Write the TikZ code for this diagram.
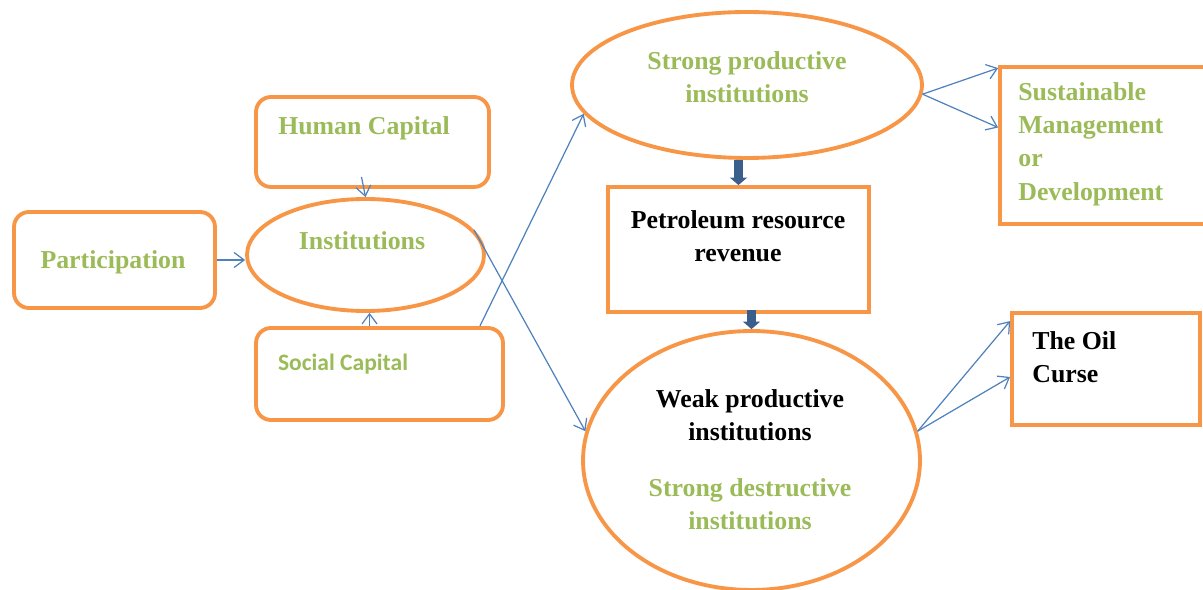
\documentclass[tikz,border=0pt]{standalone}
\usepackage{fontspec}
\setmainfont{Liberation Serif}
\newfontfamily\calibrifont{Carlito}
\usetikzlibrary{shapes.geometric,arrows.meta}
\definecolor{boxorange}{HTML}{F79646}
\definecolor{labelgreen}{HTML}{9BBB59}
\definecolor{linkblue}{HTML}{4F81BD}
\definecolor{flowblue}{HTML}{3A5F8C}

\begin{document}
\begin{tikzpicture}[x=0.02cm,y=-0.02cm,
  box/.style={draw=boxorange,line width=2.2pt},
  rbox/.style={box,rounded corners=0.3cm},
  oval/.style={box,ellipse},
  txt/.style={font=\fontsize{14.7}{19}\selectfont\bfseries,inner sep=0pt,align=center},
  gtxt/.style={txt,text=labelgreen},
  link/.style={draw=linkblue,line width=0.7pt,-{Straight Barb[length=0.2cm,width=0.3cm]}},
  fat/.style={draw=flowblue,line width=0.18cm,-{Triangle[length=0.15cm,width=0.34cm]}}]
\useasboundingbox (0,0) rectangle (1203,590);
\clip (0,0) rectangle (1203,590);

% left half: inputs around institutions
\node[rbox,minimum width=4.02cm,minimum height=1.92cm] (part) at (114.5,260) {};
\node[rbox,minimum width=4.66cm,minimum height=1.8cm] (hc) at (372.5,142) {};
\node[oval,minimum width=4.74cm,minimum height=2.24cm] (inst) at (365.5,255) {};
\node[rbox,minimum width=4.94cm,minimum height=1.84cm] (sc) at (379.5,374) {};

\node[gtxt] (part-t) at (113,262) {Participation};
\node[gtxt] (hc-t) at (364,128) {Human Capital};
\node[gtxt] (inst-t) at (362,241) {Institutions};
\node[txt,text=labelgreen,font=\calibrifont\fontsize{13.4}{16}\selectfont\bfseries] (sc-t) at (343,364) {Social Capital};

% right half: the two outcomes of resource revenue
\node[oval,minimum width=7cm,minimum height=2.92cm] (spi) at (747,85) {};
\node[box,minimum width=5.22cm,minimum height=2.5cm] (prr) at (738.5,249.5) {};
\node[oval,minimum width=6.74cm,minimum height=5.18cm] (wpi) at (751.5,460.5) {};
\node[box,minimum width=4.2cm,minimum height=3.14cm] (smd) at (1105,145.5) {};
\node[box,minimum width=3.76cm,minimum height=2.24cm] (toc) at (1106,369) {};

\node[gtxt] (spi-t) at (747,77) {Strong productive\\institutions};
\node[txt] (prr-t) at (738,236) {Petroleum resource\\revenue};
\node[txt] (wpi-t) at (750,415) {Weak productive\\institutions};
\node[gtxt] (sdi-t) at (750,504) {Strong destructive\\institutions};
\node[gtxt,anchor=west,align=left] (smd-t) at (1018,144) {Sustainable\\Management\\or\\Development};
\node[txt,anchor=west,align=left] (toc-t) at (1032,357) {The Oil\\Curse};

% connectors
\draw[link] (part.east) -- (part.east -| inst.west);
\draw[link] ([shift={(-11,-12)}]hc.south) -- (inst.north);
\draw[link] ([shift={(4,0)}]sc.north -| inst.south) -- ([shift={(4,0)}]inst.south);
\draw[link] ([shift={(-25,0)}]sc.north east) -- (spi.190);
\draw[link] (inst.13) -- (wpi.170);
\draw[link] (spi.-3) -- ([shift={(0,3)}]smd.north west);
\draw[link] (spi.-3) -- ([shift={(0,-18)}]smd.west);
\draw[link] (wpi.10) -- ([shift={(0,10)}]toc.north west);
\draw[link] (wpi.10) -- ([shift={(0,8)}]toc.west);
\draw[fat] (spi.south -| prr.north) -- (prr.north);
\draw[fat] ([shift={(0,-4)}]prr.south -| wpi.north) -- (wpi.north);
\end{tikzpicture}
\end{document}
